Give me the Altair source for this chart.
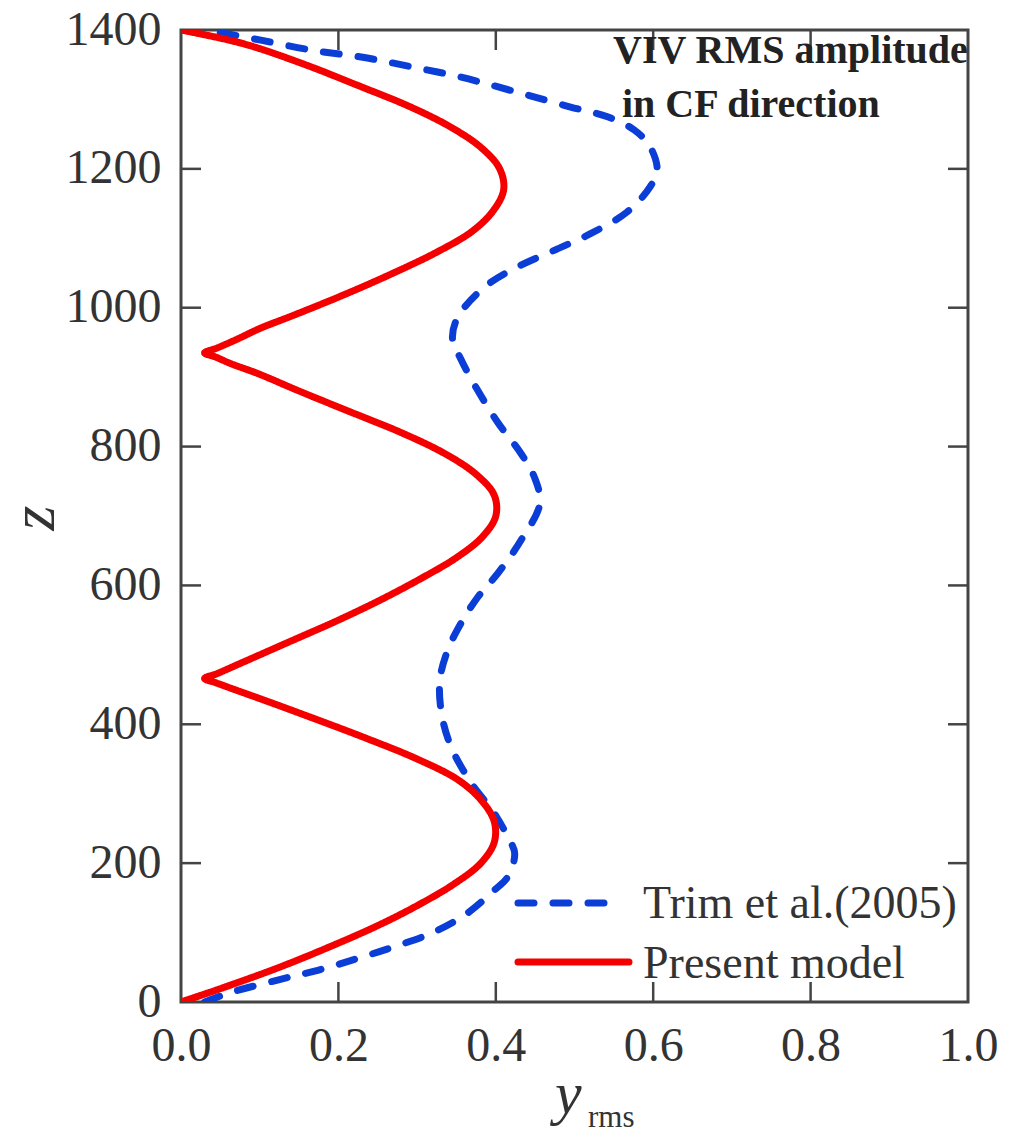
import altair as alt
import pandas as pd

# ---- data ----
z_present = [0, 20, 50, 80, 110, 140, 170, 200, 230, 260, 290, 320, 350, 380, 410, 435, 450, 460, 466,
             473, 485, 500, 520, 550, 580, 610, 640, 670, 700, 730, 760, 790, 820, 850, 880, 905, 920, 929, 935,
             942, 955, 970, 990, 1020, 1050, 1080, 1110, 1140, 1170, 1200, 1230, 1260, 1290, 1320, 1350, 1380, 1400]
x_present = [0.0, 0.052, 0.125, 0.19, 0.25, 0.302, 0.347, 0.381, 0.398, 0.398, 0.382, 0.352, 0.300, 0.235, 0.165, 0.105, 0.068, 0.044, 0.030,
             0.046, 0.070, 0.100, 0.140, 0.200, 0.255, 0.305, 0.350, 0.383, 0.400, 0.398, 0.375, 0.335, 0.280, 0.215, 0.150, 0.098, 0.062, 0.044, 0.030,
             0.046, 0.072, 0.100, 0.145, 0.210, 0.270, 0.325, 0.370, 0.397, 0.410, 0.405, 0.382, 0.343, 0.290, 0.225, 0.158, 0.080, 0.0]

z_trim = [0, 13, 32, 46, 63, 80, 101, 128, 161, 180, 214, 238, 272, 315, 368, 416, 464, 507, 546, 583, 618,
          665, 718, 756, 790, 834, 881, 925, 955, 987, 1030, 1059, 1083, 1107, 1138, 1174, 1198, 1232, 1256,
          1275, 1289, 1313, 1332, 1347, 1361, 1371, 1385, 1396, 1400]
x_trim = [0.03, 0.061, 0.124, 0.175, 0.225, 0.272, 0.322, 0.364, 0.398, 0.415, 0.424, 0.415, 0.398, 0.369, 0.343, 0.331, 0.329, 0.339, 0.356, 0.377, 0.403,
          0.432, 0.456, 0.449, 0.432, 0.403, 0.377, 0.356, 0.345, 0.352, 0.386, 0.428, 0.475, 0.521, 0.567, 0.596, 0.605, 0.596, 0.576,
          0.542, 0.495, 0.419, 0.356, 0.293, 0.229, 0.166, 0.103, 0.052, 0.03]

series_names = ["Trim et al.(2005)", "Present model"]
series_colors = ["#0a3ed6", "#f50000"]
x_ticks = [0.0, 0.2, 0.4, 0.6, 0.8, 1.0]
z_ticks = [0, 200, 400, 600, 800, 1000, 1200, 1400]
inner_x_ticks = [0.2, 0.4, 0.6, 0.8]
inner_z_ticks = [200, 400, 600, 800, 1000, 1200]
annotation_lines = ["VIV RMS amplitude", "in CF direction"]

W, H = 787, 972
FONT = "Liberation Serif"
AX = "#444444"

df = pd.concat([
    pd.DataFrame({"x": x_trim, "z": z_trim, "series": series_names[0]}),
    pd.DataFrame({"x": x_present, "z": z_present, "series": series_names[1]}),
], ignore_index=True)

xs = alt.Scale(domain=[0, 1], nice=False, zero=False)
ys = alt.Scale(domain=[0, 1400], nice=False, zero=False)

x_axis = alt.Axis(values=x_ticks, format=".1f", tickSize=0, grid=False, domain=False,
                  labelFont=FONT, labelFontSize=48, labelColor="#333333", labelPadding=20,
                  labelFlush=False, title=None)
y_axis = alt.Axis(values=z_ticks, format="d", tickSize=0, grid=False, domain=False,
                  labelFont=FONT, labelFontSize=48, labelColor="#333333", labelPadding=20,
                  labelFlush=False, title=None)

lines = alt.Chart(df).mark_line(strokeWidth=7, interpolate="catmull-rom", strokeCap="round",
                                strokeJoin="round", clip=True).encode(
    x=alt.X("x:Q", scale=xs, axis=x_axis),
    y=alt.Y("z:Q", scale=ys, axis=y_axis),
    color=alt.Color("series:N", scale=alt.Scale(domain=series_names, range=series_colors), legend=None),
    strokeDash=alt.StrokeDash("series:N", scale=alt.Scale(domain=series_names, range=[[16, 19], [1, 0]]),
                              legend=None),
    detail="series:N",
    order="z:Q",
)

tx = pd.DataFrame({"v": inner_x_ticks})
tz = pd.DataFrame({"v": inner_z_ticks})
tick_style = dict(color=AX, strokeWidth=2.5)
xt_bottom = alt.Chart(tx).mark_rule(**tick_style).encode(
    x=alt.X("v:Q", scale=xs, axis=x_axis), y=alt.value(H), y2=alt.value(H - 20))
xt_top = alt.Chart(tx).mark_rule(**tick_style).encode(
    x=alt.X("v:Q", scale=xs, axis=x_axis), y=alt.value(0), y2=alt.value(20))
yt_left = alt.Chart(tz).mark_rule(**tick_style).encode(
    y=alt.Y("v:Q", scale=ys, axis=y_axis), x=alt.value(0), x2=alt.value(20))
yt_right = alt.Chart(tz).mark_rule(**tick_style).encode(
    y=alt.Y("v:Q", scale=ys, axis=y_axis), x=alt.value(W), x2=alt.value(W - 20))

# legend (manual)
leg = pd.DataFrame({"series": series_names})
leg_trim = alt.Chart(leg.iloc[[0]]).mark_rule(strokeWidth=7, strokeCap="round", strokeDash=[16, 19],
                                              color=series_colors[0]).encode(
    x=alt.value(337), x2=alt.value(436), y=alt.value(873))
leg_present = alt.Chart(leg.iloc[[1]]).mark_rule(strokeWidth=7, strokeCap="round",
                                                 color=series_colors[1]).encode(
    x=alt.value(337), x2=alt.value(448), y=alt.value(932))
leg_text_trim = alt.Chart(leg.iloc[[0]]).mark_text(font=FONT, fontSize=46, color="#333333",
                                                   align="left", baseline="alphabetic").encode(
    text="series:N", x=alt.value(462), y=alt.value(888))
leg_text_present = alt.Chart(leg.iloc[[1]]).mark_text(font=FONT, fontSize=46, color="#333333",
                                                      align="left", baseline="alphabetic").encode(
    text="series:N", x=alt.value(462), y=alt.value(948))

# annotation
ann = pd.DataFrame({"t": annotation_lines})
ann1 = alt.Chart(ann.iloc[[0]]).mark_text(font=FONT, fontSize=40, fontWeight="bold", color="#222222",
                                          align="left", baseline="alphabetic").encode(
    text="t:N", x=alt.value(432), y=alt.value(33))
ann2 = alt.Chart(ann.iloc[[1]]).mark_text(font=FONT, fontSize=40, fontWeight="bold", color="#222222",
                                          align="left", baseline="alphabetic").encode(
    text="t:N", x=alt.value(441), y=alt.value(87))

# axis titles
titles = pd.DataFrame({"t": ["z", "y", "rms"]})
z_title = alt.Chart(titles.iloc[[0]]).mark_text(font=FONT, fontSize=64, fontStyle="italic", color="#333333",
                                                align="center", baseline="middle", angle=270).encode(
    text="t:N", x=alt.value(-146), y=alt.value(488))
y_title = alt.Chart(titles.iloc[[1]]).mark_text(font=FONT, fontSize=60, fontStyle="italic", color="#333333",
                                                align="left", baseline="alphabetic").encode(
    text="t:N", x=alt.value(374), y=alt.value(1083))
rms_title = alt.Chart(titles.iloc[[2]]).mark_text(font=FONT, fontSize=31, color="#333333",
                                                  align="left", baseline="alphabetic").encode(
    text="t:N", x=alt.value(407), y=alt.value(1097))

chart = alt.layer(
    lines, xt_bottom, xt_top, yt_left, yt_right,
    leg_trim, leg_present, leg_text_trim, leg_text_present,
    ann1, ann2, z_title, y_title, rms_title,
).properties(
    width=W, height=H,
    background="white",
    autosize=alt.AutoSizeParams(type="none"),
    padding={"left": 173, "top": 22, "right": 30, "bottom": 132},
).configure_view(stroke=AX, strokeWidth=3)

chart.save("out.html", embed_options={"renderer": "svg", "actions": False})
